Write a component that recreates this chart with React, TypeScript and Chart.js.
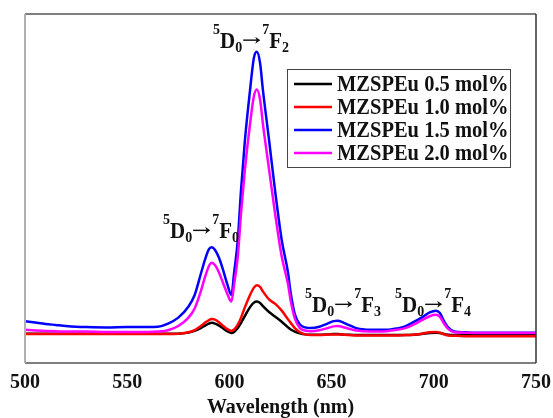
import React, { useEffect, useRef } from 'react';
import { Chart, registerables } from 'chart.js';

Chart.register(...registerables);

// ---- data (intensity in arbitrary units) ----
const wavelengths = [
  500, 505, 510, 515, 520, 525, 530,
  540, 550, 560, 565, 570, 575, 580,
  583, 586, 588, 590, 591.3, 593, 595, 597, 599, 601,
  602.3, 604.1, 605.7, 607.6, 610.1, 612, 613.4, 615, 616.4, 619.4,
  622.3, 625.6, 628.7, 630, 632, 634.5, 637, 640, 644, 648,
  651, 653, 655, 658, 662, 666, 672, 677, 682, 686,
  690, 694, 698, 701, 703, 705, 707, 710, 715, 720,
  730, 740, 750,
];

const mz05 = [
  8.4, 8.4, 8.4, 8.4, 8.4, 8.4, 8.4,
  8.4, 8.4, 8.4, 8.4, 8.4, 8.4, 8.7,
  9.2, 10.0, 10.7, 11.3, 11.5, 11.3, 10.7, 9.9, 9.1, 8.6,
  8.9, 10.0, 11.5, 13.5, 16.0, 17.3, 17.6, 17.2, 16.3, 14.6,
  13.3, 11.8, 10.2, 9.6, 9.0, 8.5, 8.2, 8.1, 8.1, 8.2,
  8.3, 8.3, 8.2, 8.1, 8.0, 8.0, 8.0, 8.0, 8.0, 8.0,
  8.1, 8.3, 8.6, 8.7, 8.6, 8.3, 8.1, 8.0, 8.0, 8.0,
  8.0, 8.0, 8.0,
];

const mz10 = [
  8.3, 8.3, 8.3, 8.3, 8.3, 8.3, 8.3,
  8.3, 8.3, 8.3, 8.3, 8.3, 8.4, 8.8,
  9.4, 10.6, 11.5, 12.3, 12.6, 12.4, 11.6, 10.6, 9.7, 9.2,
  9.6, 11.0, 13.0, 16.0, 19.5, 21.6, 22.3, 21.8, 20.5, 18.2,
  17.0, 15.0, 12.5, 11.5, 10.0, 8.8, 8.2, 8.0, 8.0, 8.1,
  8.2, 8.2, 8.2, 8.0, 7.9, 7.9, 7.9, 7.9, 7.9, 8.0,
  8.1, 8.4, 8.8, 8.9, 8.7, 8.2, 7.9, 7.8, 7.7, 7.7,
  7.7, 7.7, 7.7,
];

const mz15 = [
  12.0, 11.6, 11.2, 10.9, 10.6, 10.4, 10.3,
  10.2, 10.3, 10.3, 10.4, 11.3, 13.0, 16.2,
  19.5, 25.5, 29.5, 32.6, 33.2, 32.4, 30.0, 26.5, 22.5, 19.5,
  25.8, 35.2, 49.6, 63.9, 78.2, 87.5, 89.2, 86.0, 78.2, 63.9,
  49.6, 35.2, 25.8, 20.0, 14.0, 11.0, 10.2, 10.0, 10.4, 11.3,
  12.0, 12.1, 11.8, 11.0, 10.0, 9.6, 9.5, 9.5, 9.9, 10.5,
  11.7, 13.0, 14.5, 15.0, 14.3, 12.0, 10.2, 9.0, 8.8, 8.7,
  8.7, 8.7, 8.7,
];

const mz20 = [
  9.5, 9.3, 9.2, 9.1, 9.0, 9.0, 9.0,
  8.9, 8.9, 8.9, 9.0, 9.4, 10.6, 13.0,
  15.6, 20.5, 24.5, 27.8, 28.7, 28.0, 25.8, 22.8, 19.8, 17.6,
  22.5, 30.5, 43.0, 55.5, 68.5, 76.5, 78.4, 75.5, 68.5, 55.5,
  43.0, 30.5, 22.5, 17.8, 12.8, 10.0, 9.3, 9.1, 9.4, 10.0,
  10.5, 10.6, 10.4, 9.9, 9.3, 9.1, 9.0, 9.1, 9.5, 10.0,
  11.0, 12.2, 13.4, 13.8, 13.2, 11.3, 9.8, 8.8, 8.7, 8.6,
  8.6, 8.6, 8.6,
];

const seriesLabels = ['MZSPEu 0.5 mol%', 'MZSPEu 1.0 mol%', 'MZSPEu 1.5 mol%', 'MZSPEu 2.0 mol%'];
const seriesColors = ['#000000', '#ff0000', '#0000ff', '#ff00ff'];
const seriesValues = [mz05, mz10, mz15, mz20];

const xTicks = [500, 550, 600, 650, 700, 750];
const xTitle = 'Wavelength (nm)';

// transition labels: anchor wavelength / intensity, final level index
const transitionWl = [567.5, 592.0, 637.0, 681.0];
const transitionInt = [35.8, 90.3, 14.6, 14.6];
const transitionF = ['0', '2', '3', '4'];

const SERIF = '"Liberation Serif", "Times New Roman", serif';

function drawTransition(ctx: CanvasRenderingContext2D, x: number, y: number, f: string) {
  const main = `bold 21px ${SERIF}`;
  const small = `bold 14px ${SERIF}`;
  ctx.save();
  ctx.translate(x, y);
  ctx.scale(1, 1.1);
  ctx.fillStyle = '#111';
  ctx.strokeStyle = '#111';
  ctx.textBaseline = 'alphabetic';
  ctx.textAlign = 'left';
  let cx = 0;
  const put = (t: string, font: string, dy: number) => {
    ctx.font = font;
    ctx.fillText(t, cx, dy);
    cx += ctx.measureText(t).width;
  };
  put('5', small, -13);
  put('D', main, 0);
  put('0', small, 4);
  // arrow
  const ay = -7;
  const ax0 = cx + 1;
  const ax1 = cx + 18;
  ctx.lineWidth = 1.3;
  ctx.beginPath();
  ctx.moveTo(ax0, ay);
  ctx.lineTo(ax1 - 1, ay);
  ctx.stroke();
  ctx.beginPath();
  ctx.moveTo(ax1, ay);
  ctx.lineTo(ax1 - 5, ay - 3.2);
  ctx.lineTo(ax1 - 3.5, ay);
  ctx.lineTo(ax1 - 5, ay + 3.2);
  ctx.closePath();
  ctx.fill();
  cx = ax1 + 2;
  put('7', small, -13);
  put('F', main, 0);
  put(f, small, 4);
  ctx.restore();
}

const decorPlugin = {
  id: 'decor',
  afterDatasetsDraw(chart: any) {
    const { ctx, chartArea } = chart;
    const { left, right, top, bottom } = chartArea;
    const xs = chart.scales.x;
    const ys = chart.scales.y;

    // frame
    ctx.save();
    ctx.lineWidth = 1.5;
    ctx.strokeStyle = '#555';
    ctx.beginPath();
    ctx.moveTo(left, top); ctx.lineTo(right, top);
    ctx.moveTo(left, bottom); ctx.lineTo(right, bottom);
    ctx.stroke();
    ctx.strokeStyle = '#333';
    ctx.beginPath();
    ctx.moveTo(right, top); ctx.lineTo(right, bottom);
    ctx.stroke();
    ctx.strokeStyle = '#b0b0b0';
    ctx.lineWidth = 2;
    ctx.beginPath();
    ctx.moveTo(left, top); ctx.lineTo(left, bottom);
    ctx.stroke();
    ctx.restore();

    // transition labels
    for (let i = 0; i < transitionWl.length; i++) {
      drawTransition(ctx, xs.getPixelForValue(transitionWl[i]), ys.getPixelForValue(transitionInt[i]), transitionF[i]);
    }

    // legend box
    const bx = left + 262;
    const by = top + 55;
    const bw = 223;
    const bh = 98;
    ctx.save();
    ctx.fillStyle = '#fff';
    ctx.fillRect(bx, by, bw, bh);
    ctx.strokeStyle = '#444';
    ctx.lineWidth = 1;
    ctx.strokeRect(bx + 0.5, by + 0.5, bw, bh);
    for (let i = 0; i < seriesLabels.length; i++) {
      const cy = by + 15 + i * 23;
      ctx.strokeStyle = seriesColors[i];
      ctx.lineWidth = 2.5;
      ctx.beginPath();
      ctx.moveTo(bx + 7, cy);
      ctx.lineTo(bx + 45, cy);
      ctx.stroke();
      ctx.save();
      ctx.translate(bx + 50, cy + 7);
      ctx.scale(1, 1.1);
      ctx.fillStyle = '#111';
      ctx.font = `bold 20.5px ${SERIF}`;
      ctx.textBaseline = 'alphabetic';
      ctx.fillText(seriesLabels[i], 0, 0);
      ctx.restore();
    }
    ctx.restore();
  },
};

export default function App() {
  const ref = useRef<HTMLCanvasElement | null>(null);
  useEffect(() => {
    document.body.style.margin = '0';
    const canvas = ref.current;
    if (!canvas) return;
    const chart = new Chart(canvas, {
      type: 'line',
      data: {
        datasets: seriesLabels.map((label, i) => ({
          label,
          data: wavelengths.map((w, j) => ({ x: w, y: seriesValues[i][j] })),
          borderColor: seriesColors[i],
          backgroundColor: seriesColors[i],
          borderWidth: 2.5,
          pointRadius: 0,
          fill: false,
          cubicInterpolationMode: 'monotone' as const,
          order: -i,
        })),
      },
      options: {
        animation: false,
        responsive: false,
        devicePixelRatio: 1,
        events: [],
        layout: { padding: { left: 25, right: 17, top: 14, bottom: 0 } },
        plugins: { legend: { display: false }, tooltip: { enabled: false } },
        scales: {
          x: {
            type: 'linear',
            min: 500,
            max: 750,
            grid: { display: false },
            border: { display: false },
            afterBuildTicks: (s: any) => { s.ticks = xTicks.map((v) => ({ value: v })); },
            afterFit: (s: any) => { s.height = 55; },
            ticks: {
              autoSkip: false,
              maxRotation: 0,
              padding: 0,
              color: '#111',
              font: { family: SERIF, size: 20, weight: 'bold' },
            },
            title: {
              display: true,
              text: xTitle,
              color: '#111',
              padding: { top: 0, bottom: 0 },
              font: { family: SERIF, size: 20, weight: 'bold', lineHeight: 1 },
            },
          },
          y: { display: false, min: 0, max: 100 },
        },
      },
      plugins: [decorPlugin],
    });
    return () => chart.destroy();
  }, []);
  return (
    <div style={{ width: 553, height: 418 }}>
      <canvas ref={ref} width={553} height={418} />
    </div>
  );
}
